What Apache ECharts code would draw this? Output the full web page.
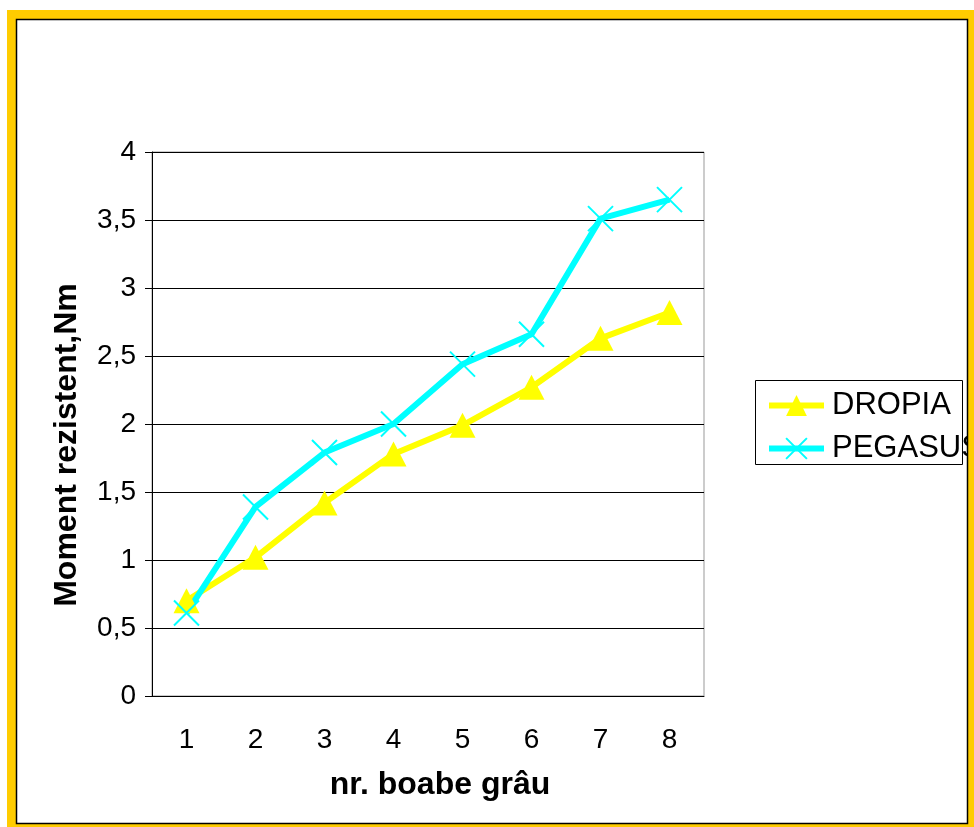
<!DOCTYPE html>
<html lang="ro">
<head>
    <meta charset="UTF-8">
    <script src="https://cdn.jsdelivr.net/npm/echarts@6/dist/echarts.min.js"></script>
    <title>Moment rezistent</title>
    <style>
        body { margin: 0; background: #fff; }
        #main { width: 974px; height: 827px; }
    </style>
</head>
<body>
    <div id="main"></div>
    <script type="text/javascript">
        // date
        var categorii = ['1', '2', '3', '4', '5', '6', '7', '8'];
        var dropia = [0.70, 1.02, 1.42, 1.78, 1.99, 2.27, 2.63, 2.82];
        var pegasus = [0.61, 1.39, 1.79, 2.00, 2.44, 2.66, 3.51, 3.65];
        var numeSerii = ['DROPIA', 'PEGASUS'];

        var crossPath = 'path://M0,0L10,10M10,0L0,10';
        var font = 'Liberation Sans, Arial, sans-serif';

        var myChart = echarts.init(document.getElementById('main'));

        var option = {
            backgroundColor: '#fff',
            animation: false,
            textStyle: { fontFamily: font },
            grid: { left: 152, top: 152, width: 552, height: 544, show: true, borderColor: '#999', borderWidth: 1 },
            legend: {
                orient: 'vertical',
                left: 766,
                top: 390,
                padding: 0,
                itemWidth: 55,
                itemHeight: 26,
                itemGap: 12,
                lineStyle: { width: 6 },
                textStyle: { fontSize: 31, color: '#000', fontFamily: font, padding: [0, 0, 0, 3] },
                data: numeSerii
            },
            xAxis: {
                type: 'category',
                data: categorii,
                boundaryGap: true,
                name: 'nr. boabe grâu',
                nameLocation: 'middle',
                nameGap: 73,
                nameTextStyle: { fontSize: 32, fontWeight: 'bold', color: '#000', fontFamily: font, padding: [0, 0, 0, 24] },
                axisLine: { lineStyle: { color: '#000', width: 1 } },
                axisTick: { length: 7, lineStyle: { color: '#000' } },
                axisLabel: { fontSize: 28, color: '#000', margin: 30, fontFamily: font }
            },
            yAxis: {
                type: 'value',
                min: 0,
                max: 4,
                interval: 0.5,
                name: 'Moment rezistent,Nm',
                nameLocation: 'middle',
                nameGap: 69,
                nameTextStyle: { fontSize: 32, fontWeight: 'bold', color: '#000', fontFamily: font, padding: [0, 42, 0, 0] },
                axisLine: { show: true, lineStyle: { color: '#000', width: 1 } },
                axisTick: { show: true, length: 7, lineStyle: { color: '#000' } },
                splitLine: { lineStyle: { color: '#000', width: 1 } },
                axisLabel: {
                    fontSize: 28, color: '#000', margin: 16, fontFamily: font,
                    formatter: function (v) { return String(v).replace('.', ','); }
                }
            },
            graphic: [
                // cadrul galben
                { type: 'rect', z: 100, shape: { x: 7, y: 10, width: 967, height: 9 }, style: { fill: '#FFCC00' } },
                { type: 'rect', z: 100, shape: { x: 7, y: 10, width: 9, height: 817 }, style: { fill: '#FFCC00' } },
                { type: 'rect', z: 100, shape: { x: 968, y: 10, width: 6, height: 817 }, style: { fill: '#FFCC00' } },
                { type: 'rect', z: 100, shape: { x: 7, y: 824, width: 967, height: 3 }, style: { fill: '#FFCC00' } },
                { type: 'rect', z: 101, shape: { x: 16.5, y: 19.5, width: 951, height: 804 }, style: { fill: 'none', stroke: '#000', lineWidth: 1.5 } },
                // chenarul legendei
                { type: 'rect', z: 0, shape: { x: 755.5, y: 380.5, width: 207, height: 84 }, style: { fill: '#fff', stroke: '#000', lineWidth: 1 } }
            ],
            series: [
                {
                    name: 'DROPIA',
                    type: 'line',
                    data: dropia,
                    symbol: 'triangle',
                    symbolSize: [26, 25],
                    showAllSymbol: true,
                    lineStyle: { color: '#FFFF00', width: 6 },
                    itemStyle: { color: '#FFFF00' }
                },
                {
                    name: 'PEGASUS',
                    type: 'line',
                    data: pegasus,
                    symbol: crossPath,
                    symbolSize: 25,
                    showAllSymbol: true,
                    lineStyle: { color: '#00FFFF', width: 6 },
                    itemStyle: { color: '#00FFFF', borderColor: '#00FFFF', borderWidth: 2 }
                }
            ]
        };

        myChart.setOption(option);
    </script>
</body>
</html>
